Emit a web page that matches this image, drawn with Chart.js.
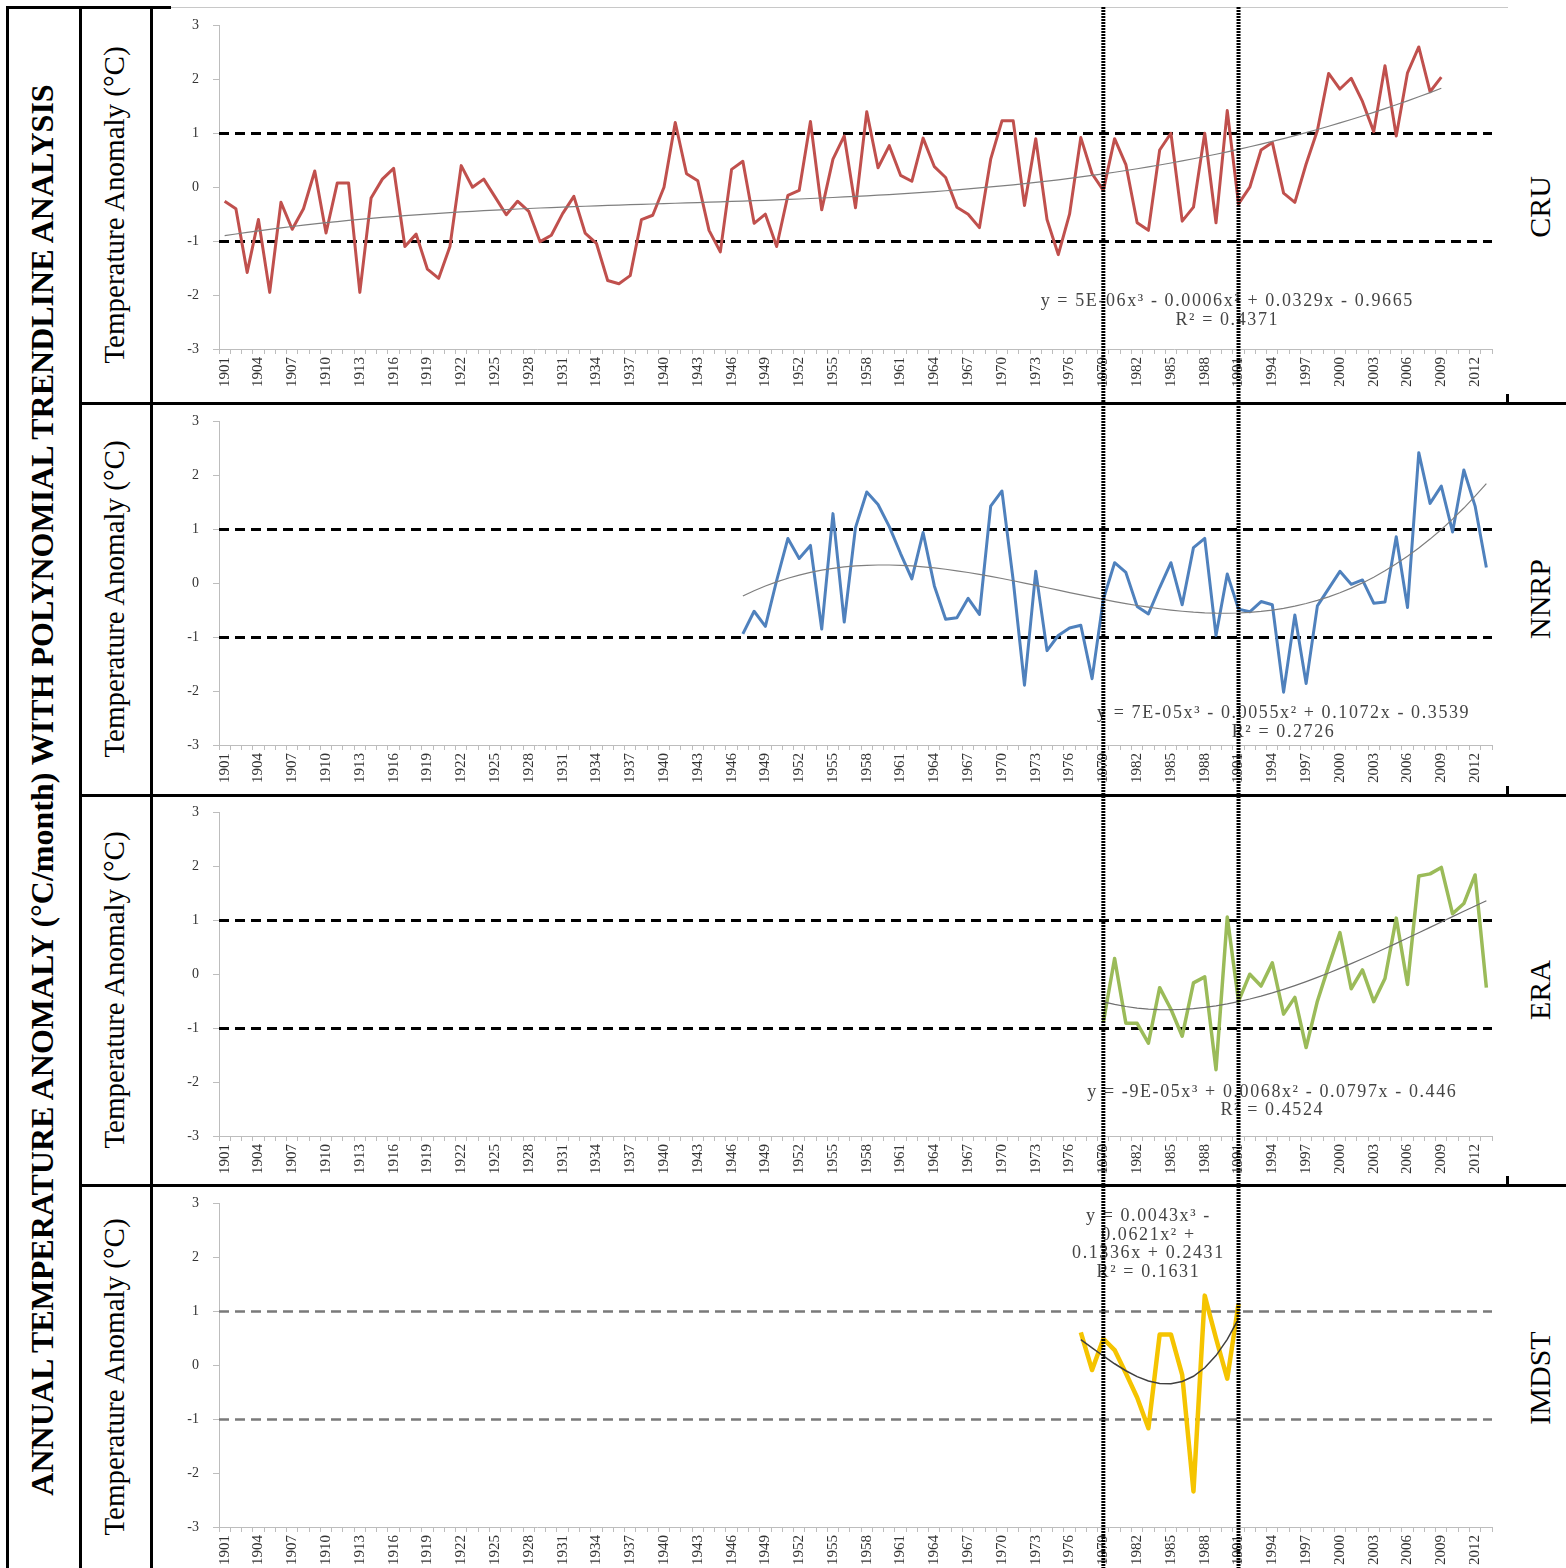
<!DOCTYPE html>
<html>
<head>
<meta charset="utf-8">
<script src="https://cdn.jsdelivr.net/npm/chart.js@4.4.0/dist/chart.umd.min.js"></script>
<style>
html, body { margin: 0; padding: 0; width: 1566px; height: 1568px; overflow: hidden; background: #fff; }
body { position: relative; font-family: "Liberation Serif", "Times New Roman", serif; }
.panel { position: absolute; left: 151px; width: 1357px; height: 398px; }
.rule { position: absolute; background: #000; }
.rot { position: absolute; transform: translate(-50%, -50%) rotate(-90deg); white-space: nowrap; color: #000; }
.ylab { font-size: 29px; left: 114px; }
.side { font-size: 30px; left: 1540px; }
#overlay { position: absolute; left: 0; top: 0; pointer-events: none; }
</style>
</head>
<body>

<div class="rot" style="left:42px; top:790px; font-size:32px; font-weight:bold;">ANNUAL TEMPERATURE ANOMALY (°C/month) WITH POLYNOMIAL TRENDLINE ANALYSIS</div>

<div class="rot ylab" style="top:205px;">Temperature Anomaly (°C)</div>
<div class="rot ylab" style="top:599px;">Temperature Anomaly (°C)</div>
<div class="rot ylab" style="top:990px;">Temperature Anomaly (°C)</div>
<div class="rot ylab" style="top:1377px;">Temperature Anomaly (°C)</div>

<div class="rot side" style="top:207px;">CRU</div>
<div class="rot side" style="top:599px;">NNRP</div>
<div class="rot side" style="top:990px;">ERA</div>
<div class="rot side" style="top:1378px;">IMDST</div>

<div class="panel" style="top:3px;"><canvas id="c0"></canvas></div>
<div class="panel" style="top:399px;"><canvas id="c1"></canvas></div>
<div class="panel" style="top:790px;"><canvas id="c2"></canvas></div>
<div class="panel" style="top:1181px;"><canvas id="c3"></canvas></div>

<!-- table frame -->
<div class="rule" style="left:6px; top:6px; width:3px; height:1562px;"></div>
<div class="rule" style="left:79px; top:6px; width:3px; height:1562px;"></div>
<div class="rule" style="left:150px; top:6px; width:3px; height:1562px;"></div>
<div class="rule" style="left:6px; top:6px; width:165px; height:3px;"></div>
<div class="rule" style="left:171px; top:7px; width:1337px; height:1px; background:#c8c8c8;"></div>
<div class="rule" style="left:79px; top:402px; width:1487px; height:3px;"></div>
<div class="rule" style="left:79px; top:794px; width:1487px; height:3px;"></div>
<div class="rule" style="left:79px; top:1184px; width:1487px; height:3px;"></div>
<div class="rule" style="left:1506px; top:394px; width:3px; height:9px;"></div>
<div class="rule" style="left:1506px; top:786px; width:3px; height:9px;"></div>
<div class="rule" style="left:1506px; top:1176px; width:3px; height:9px;"></div>

<canvas id="overlay" width="1566" height="1568"></canvas>

<script>
// categorias (anos)
const years = [1901,1902,1903,1904,1905,1906,1907,1908,1909,1910,1911,1912,1913,1914,1915,1916,1917,1918,1919,1920,
  1921,1922,1923,1924,1925,1926,1927,1928,1929,1930,1931,1932,1933,1934,1935,1936,1937,1938,1939,1940,
  1941,1942,1943,1944,1945,1946,1947,1948,1949,1950,1951,1952,1953,1954,1955,1956,1957,1958,1959,1960,
  1961,1962,1963,1964,1965,1966,1967,1968,1969,1970,1971,1972,1973,1974,1975,1976,1977,1978,1979,1980,
  1981,1982,1983,1984,1985,1986,1987,1988,1989,1990,1991,1992,1993,1994,1995,1996,1997,1998,1999,2000,
  2001,2002,2003,2004,2005,2006,2007,2008,2009,2010,2011,2012,2013];

// rótulos visíveis no eixo x
const tickYears = [1901,1904,1907,1910,1913,1916,1919,1922,1925,1928,1931,1934,1937,1940,1943,1946,1949,
  1952,1955,1958,1961,1964,1967,1970,1973,1976,1979,1982,1985,1988,1991,1994,1997,2000,2003,2006,2009,2012];

const yTicks = [-3, -2, -1, 0, 1, 2, 3];
const bandLimits = [-1, 1];
const markYears = [1979, 1991];

// séries (anomalias anuais)
const cruStart = 1901;
const cruValues = [-0.26,-0.40,-1.58,-0.60,-1.95,-0.28,-0.78,-0.40,0.30,-0.85,
  0.08,0.08,-1.95,-0.20,0.15,0.35,-1.10,-0.87,-1.52,-1.69,
  -1.10,0.40,0.00,0.15,-0.18,-0.51,-0.26,-0.45,-1.01,-0.89,
  -0.49,-0.17,-0.85,-1.04,-1.73,-1.79,-1.64,-0.60,-0.52,0.00,
  1.20,0.25,0.12,-0.80,-1.20,0.33,0.48,-0.67,-0.50,-1.10,
  -0.15,-0.06,1.22,-0.42,0.52,0.95,-0.38,1.40,0.36,0.77,
  0.22,0.11,0.91,0.38,0.18,-0.37,-0.50,-0.75,0.52,1.23,
  1.23,-0.34,0.90,-0.60,-1.25,-0.50,0.92,0.25,-0.06,0.90,
  0.42,-0.66,-0.80,0.69,1.00,-0.63,-0.37,1.00,-0.66,1.42,
  -0.31,0.00,0.69,0.83,-0.11,-0.28,0.43,1.05,2.11,1.82,
  2.02,1.59,1.03,2.25,0.95,2.12,2.60,1.77,2.04];

const nnrpStart = 1947;
const nnrpValues = [-0.94,-0.52,-0.80,0.05,0.83,0.46,0.70,-0.85,1.29,-0.72,
  1.03,1.69,1.46,1.05,0.55,0.08,0.94,-0.05,-0.67,-0.64,
  -0.28,-0.58,1.43,1.71,0.05,-1.89,0.22,-1.25,-0.97,-0.83,
  -0.78,-1.77,-0.30,0.38,0.20,-0.43,-0.57,-0.08,0.38,-0.40,
  0.66,0.83,-0.97,0.17,-0.48,-0.53,-0.34,-0.40,-2.02,-0.59,
  -1.86,-0.42,-0.10,0.22,-0.02,0.06,-0.37,-0.35,0.86,-0.45,
  2.42,1.48,1.80,0.95,2.10,1.43,0.29];

const eraStart = 1979;
const eraValues = [-0.89,0.29,-0.91,-0.91,-1.28,-0.25,-0.65,-1.15,-0.16,-0.05,
  -1.77,1.06,-0.50,0.00,-0.22,0.21,-0.74,-0.43,-1.36,-0.50,
  0.15,0.77,-0.27,0.08,-0.51,-0.08,1.04,-0.19,1.82,1.86,
  1.98,1.12,1.31,1.84,-0.25];

const imdstStart = 1977;
const imdstValues = [0.61,-0.09,0.49,0.28,-0.15,-0.60,-1.17,0.57,0.57,-0.18,
  -2.34,1.29,0.50,-0.25,1.14];

// equações das linhas de tendência
const cruEq = ["y = 5E-06x³ - 0.0006x² + 0.0329x - 0.9665", "R² = 0.4371"];
const nnrpEq = ["y = 7E-05x³ - 0.0055x² + 0.1072x - 0.3539", "R² = 0.2726"];
const eraEq = ["y = -9E-05x³ + 0.0068x² - 0.0797x - 0.446", "R² = 0.4524"];
const imdstEq = ["y = 0.0043x³ -", "0.0621x² +", "0.1336x + 0.2431", "R² = 0.1631"];

// ajuste polinomial de 3ª ordem (mínimos quadrados, x = 1..n como no Excel)
function cubicFit(vals) {
  const n = vals.length;
  const S = new Array(7).fill(0), T = new Array(4).fill(0);
  for (let i = 0; i < n; i++) {
    const t = (i + 1) / n;
    let p = 1;
    for (let k = 0; k < 7; k++) {
      S[k] += p;
      if (k < 4) T[k] += p * vals[i];
      p *= t;
    }
  }
  const A = [];
  for (let r = 0; r < 4; r++) A.push([S[r], S[r + 1], S[r + 2], S[r + 3], T[r]]);
  for (let c = 0; c < 4; c++) {
    let piv = c;
    for (let r = c + 1; r < 4; r++) if (Math.abs(A[r][c]) > Math.abs(A[piv][c])) piv = r;
    [A[c], A[piv]] = [A[piv], A[c]];
    for (let r = 0; r < 4; r++) {
      if (r === c) continue;
      const f = A[r][c] / A[c][c];
      for (let k = c; k < 5; k++) A[r][k] -= f * A[c][k];
    }
  }
  const co = A.map((row, i) => row[4] / row[i]);
  return vals.map((v, i) => {
    const t = (i + 1) / n;
    return co[0] + co[1] * t + co[2] * t * t + co[3] * t * t * t;
  });
}

function onYears(start, vals) {
  return years.map(y => {
    const i = y - start;
    return (i >= 0 && i < vals.length) ? vals[i] : null;
  });
}

const panels = [
  { canvas: "c0", start: cruStart, values: cruValues, color: "#C0504D", width: 3,
    eq: cruEq, eqYear: 1990, eqValue: -2.12, band: "#000", bandWidth: 3, trend: "#7f7f7f", trendWidth: 1.2 },
  { canvas: "c1", start: nnrpStart, values: nnrpValues, color: "#4F81BD", width: 3,
    eq: nnrpEq, eqYear: 1995, eqValue: -2.42, band: "#000", bandWidth: 3, trend: "#7f7f7f", trendWidth: 1.2 },
  { canvas: "c2", start: eraStart, values: eraValues, color: "#9BBB59", width: 3.5,
    eq: eraEq, eqYear: 1994, eqValue: -2.18, band: "#000", bandWidth: 3, trend: "#6f6f6f", trendWidth: 1.2 },
  { canvas: "c3", start: imdstStart, values: imdstValues, color: "#F5C400", width: 4.5,
    eq: imdstEq, eqYear: 1983, eqValue: 2.76, band: "#7a7a7a", bandWidth: 2.5, trend: "#404040", trendWidth: 1.5 }
];

const refLines = {
  id: "refLines",
  beforeDatasetsDraw(chart, args, opts) {
    const { ctx, chartArea, scales } = chart;
    ctx.save();
    ctx.strokeStyle = opts.color;
    ctx.lineWidth = opts.width;
    ctx.setLineDash([10, 6]);
    bandLimits.forEach(v => {
      const y = Math.round(scales.y.getPixelForValue(v)) + 0.5;
      ctx.beginPath();
      ctx.moveTo(chartArea.left, y);
      ctx.lineTo(chartArea.right, y);
      ctx.stroke();
    });
    ctx.restore();
  },
  afterDatasetsDraw(chart, args, opts) {
    const { ctx, scales } = chart;
    const x = scales.x.getPixelForValue(years.indexOf(opts.eqYear));
    let y = scales.y.getPixelForValue(opts.eqValue);
    ctx.save();
    ctx.fillStyle = "#444";
    ctx.font = '18px "Liberation Serif", serif';
    ctx.letterSpacing = "1.6px";
    ctx.textAlign = "center";
    ctx.textBaseline = "middle";
    opts.eq.forEach(line => {
      ctx.fillText(line, x, y);
      y += 18.5;
    });
    ctx.restore();
  }
};

const charts = panels.map(p => {
  const series = onYears(p.start, p.values);
  const trend = onYears(p.start, cubicFit(p.values));
  return new Chart(document.getElementById(p.canvas), {
    type: "line",
    data: {
      labels: years,
      datasets: [
        { data: trend, borderColor: p.trend, borderWidth: p.trendWidth, pointRadius: 0, order: 0 },
        { data: series, borderColor: p.color, borderWidth: p.width, pointRadius: 0, order: 1,
          borderJoinStyle: "round" }
      ]
    },
    options: {
      responsive: true,
      maintainAspectRatio: false,
      animation: false,
      events: [],
      layout: { padding: { top: 9, right: 16, left: 0, bottom: 0 } },
      plugins: {
        legend: { display: false },
        tooltip: { enabled: false },
        refLines: { color: p.band, width: p.bandWidth, eq: p.eq, eqYear: p.eqYear, eqValue: p.eqValue }
      },
      scales: {
        x: {
          offset: true,
          grid: { display: true, drawOnChartArea: false, offset: true, tickLength: 5, color: "#bdbdbd" },
          border: { color: "#bdbdbd" },
          ticks: {
            autoSkip: false, minRotation: 90, maxRotation: 90, padding: 3,
            color: "#333", font: { family: "Liberation Serif", size: 15 },
            callback: (v, i) => tickYears.includes(years[i]) ? String(years[i]) : ""
          },
          afterFit: s => { s.height = 52; }
        },
        y: {
          min: yTicks[0], max: yTicks[yTicks.length - 1],
          afterBuildTicks: s => { s.ticks = yTicks.map(v => ({ value: v })); },
          grid: { display: true, drawOnChartArea: false, tickLength: 6, color: "#bdbdbd" },
          border: { color: "#bdbdbd" },
          ticks: { color: "#333", padding: 14, font: { family: "Liberation Serif", size: 14 } },
          afterFit: s => { s.width = 68; }
        }
      }
    },
    plugins: [refLines]
  });
});

// linhas pontilhadas verticais (1979 e 1991) atravessando todos os painéis
const ov = document.getElementById("overlay").getContext("2d");
const xs = charts[0].scales.x;
ov.strokeStyle = "#000";
ov.lineWidth = 4;
ov.setLineDash([2, 1]);
markYears.forEach(yr => {
  const x = 151 + xs.getPixelForValue(years.indexOf(yr));
  ov.beginPath();
  ov.moveTo(x, 7);
  ov.lineTo(x, 1568);
  ov.stroke();
});
</script>
</body>
</html>
